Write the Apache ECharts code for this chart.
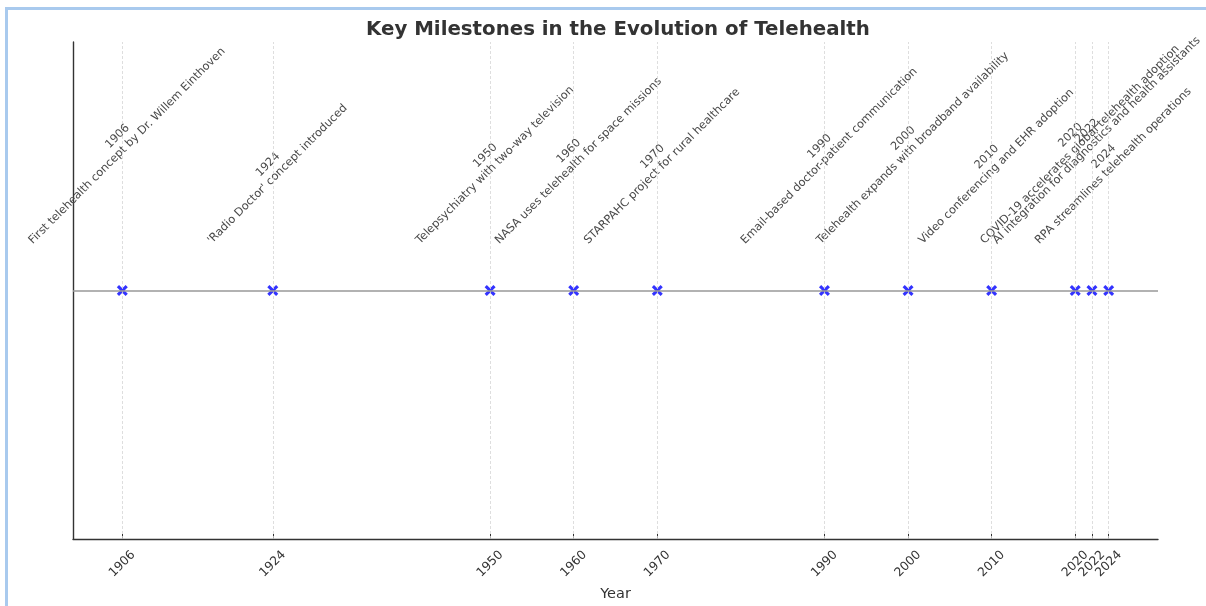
<!DOCTYPE html>
<html>
<head>
<meta charset="utf-8">
<script src="https://cdn.jsdelivr.net/npm/echarts@6/dist/echarts.min.js"></script>
<style>
html,body{margin:0;padding:0;background:#fff;overflow:hidden;}
#chart{width:1206px;height:606px;}
</style>
</head>
<body>
<div id="chart"></div>
<script>
// ---- data ----
var years = [1906, 1924, 1950, 1960, 1970, 1990, 2000, 2010, 2020, 2022, 2024];
var events = [
  "First telehealth concept by Dr. Willem Einthoven",
  "'Radio Doctor' concept introduced",
  "Telepsychiatry with two-way television",
  "NASA uses telehealth for space missions",
  "STARPAHC project for rural healthcare",
  "Email-based doctor-patient communication",
  "Telehealth expands with broadband availability",
  "Video conferencing and EHR adoption",
  "COVID-19 accelerates global telehealth adoption",
  "AI integration for diagnostics and health assistants",
  "RPA streamlines telehealth operations"
];
var tickYears = years.slice();
var titleText = "Key Milestones in the Evolution of Telehealth";
var xName = "Year";
var labelLevel = 0.175;

var FONT = "'DejaVu Sans', sans-serif";
var LBL_SIZE = 11.3;
var LBL_LH = 13.5;
var TITLE_SIZE = 19.8;
var cv = document.createElement('canvas').getContext('2d');
function tw(s, font){ cv.font = font || (LBL_SIZE + "px 'DejaVu Sans'"); return cv.measureText(s).width; }

var GRID_L = 73, GRID_R = 48;

var chart = echarts.init(document.getElementById('chart'), null, {renderer:'canvas', width: 1206, height: 606});
var xPath = 'path://M0,2 L2,0 L5,3 L8,0 L10,2 L7,5 L10,8 L8,10 L5,7 L2,10 L0,8 L3,5 Z';

var option = {
  animation: false,
  graphic: [
    {type: 'line', silent: true, shape: {x1: 6.5, y1: 8.5, x2: 1206, y2: 8.5}, style: {stroke: '#a9caee', lineWidth: 3}},
    {type: 'line', silent: true, shape: {x1: 6.5, y1: 7, x2: 6.5, y2: 606}, style: {stroke: '#a9caee', lineWidth: 3}}
  ],
  title: {
    text: titleText,
    left: 361, top: 15,
    textStyle: {fontFamily: FONT, fontSize: TITLE_SIZE, fontWeight: 'bold', color: '#333'}
  },
  grid: {left: GRID_L, right: GRID_R, top: 42, bottom: 67, containLabel: false, outerBoundsMode: 'none'},
  xAxis: {
    type: 'value', min: 1900.1, max: 2029.9,
    name: xName, nameLocation: 'middle', nameGap: 48,
    nameTextStyle: {fontFamily: FONT, fontSize: 14.5, color: '#333'},
    axisLine: {show: true, onZero: false, lineStyle: {color: '#333', width: 1.4}},
    axisTick: {show: true, inside: true, length: 5, customValues: tickYears, lineStyle: {color: '#333', width: 1}},
    axisLabel: {show: true, customValues: tickYears, rotate: 45, align: 'center', verticalAlign: 'middle', margin: 25,
      hideOverlap: false, showMinLabel: true, showMaxLabel: true,
      fontFamily: FONT, fontSize: 12.3, color: '#333', formatter: function(v){ return String(v); }},
    splitLine: {show: false}
  },
  yAxis: {
    type: 'value', min: -1, max: 1,
    axisLine: {show: true, onZero: false, lineStyle: {color: '#333', width: 1.4}},
    axisTick: {show: false}, axisLabel: {show: false}, splitLine: {show: false}
  },
  series: [
    {
      type: 'scatter', symbol: 'none', data: years.map(function(y){ return [y, 0]; }), z: 1, silent: true,
      markLine: {
        silent: true, symbol: 'none', animation: false,
        label: {show: false},
        lineStyle: {color: '#d6d6d6', type: [3, 2], width: 0.8},
        data: years.map(function(y){ return {xAxis: y}; }).concat([
          {yAxis: 0, lineStyle: {color: '#999999', type: 'solid', width: 1.5}}
        ])
      }
    },
    {
      type: 'custom', z: 2, silent: true,
      data: years.map(function(y, i){ return [y, labelLevel, i]; }),
      renderItem: function(params, api){
        var i = api.value(2);
        var pt = api.coord([api.value(0), api.value(1)]);
        var W = Math.max(tw(events[i]), tw(String(years[i])));
        var H = 2 * LBL_LH;
        var d = (W + H) / (2 * Math.SQRT2);
        return {
          type: 'text', x: pt[0], y: pt[1] - d, rotation: Math.PI / 4,
          style: {
            text: years[i] + '\n' + events[i],
            fontFamily: FONT, fontSize: LBL_SIZE, lineHeight: LBL_LH,
            fill: '#4a4a4a', align: 'center', verticalAlign: 'middle'
          }
        };
      }
    },
    {
      type: 'scatter', z: 3, silent: true,
      symbol: xPath, symbolSize: 11,
      itemStyle: {color: '#0000ff'},
      data: years.map(function(y){ return [y, 0]; })
    }
  ]
};
chart.setOption(option);
</script>
</body>
</html>
